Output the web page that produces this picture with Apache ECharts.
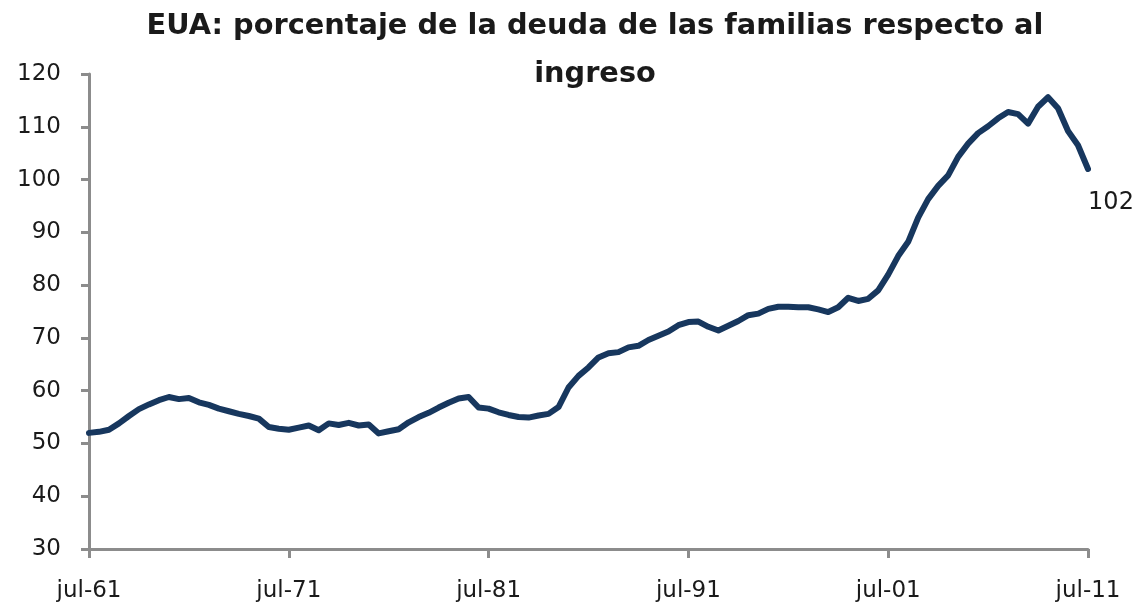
<!DOCTYPE html>
<html>
<head>
<meta charset="utf-8">
<script src="https://cdn.jsdelivr.net/npm/echarts@6/dist/echarts.min.js"></script>
<style>
html,body{margin:0;padding:0;background:#fff;}
#chart{width:1139px;height:608px;}
</style>
</head>
<body>
<div id="chart"></div>
<script>
// Half-yearly observations, jul-61 .. jul-11
const startYear = 1961;
const months = ['jul', 'ene'];
const debtRatio = [
  52.0, 52.2, 52.6, 53.8, 55.2, 56.5, 57.4, 58.2, 58.8, 58.4,
  58.6, 57.8, 57.3, 56.6, 56.1, 55.6, 55.2, 54.7, 53.1, 52.8,
  52.6, 53.0, 53.4, 52.5, 53.8, 53.5, 53.9, 53.4, 53.6, 51.9,
  52.3, 52.7, 54.0, 55.0, 55.8, 56.8, 57.7, 58.5, 58.8, 56.8,
  56.6, 55.9, 55.4, 55.0, 54.9, 55.3, 55.6, 56.9, 60.6, 62.8,
  64.4, 66.3, 67.1, 67.3, 68.2, 68.5, 69.6, 70.4, 71.2, 72.4,
  73.0, 73.1, 72.1, 71.4, 72.3, 73.2, 74.3, 74.6, 75.5, 75.9,
  75.9, 75.8, 75.8, 75.4, 74.9, 75.8, 77.6, 77.0, 77.4, 79.0,
  82.0, 85.5, 88.2, 92.8, 96.3, 98.8, 100.8, 104.3, 106.8, 108.8,
  110.1, 111.6, 112.8, 112.4, 110.6, 113.8, 115.6, 113.5, 109.2, 106.5,
  102.0
];
const categories = debtRatio.map((_, i) => {
  const y = startYear + Math.floor((i + 1) / 2);
  return months[i % 2] + '-' + String(y % 100).padStart(2, '0');
});
const endLabel = '102';
const titleText = 'EUA: porcentaje de la deuda de las familias respecto al\ningreso';

const lastIdx = debtRatio.length - 1;

const chart = echarts.init(document.getElementById('chart'), null, {renderer: 'canvas'});
chart.setOption({
  animation: false,
  backgroundColor: '#ffffff',
  title: {
    text: titleText,
    left: 590,
    top: -2,
    textAlign: 'center',
    textStyle: {
      fontFamily: '"DejaVu Sans", sans-serif',
      fontWeight: 'bold',
      fontSize: 28.8,
      lineHeight: 48,
      color: '#1a1a1a'
    }
  },
  grid: {left: 89, right: 51, top: 74, bottom: 59, containLabel: false},
  xAxis: {
    type: 'category',
    data: categories,
    boundaryGap: false,
    axisLine: {lineStyle: {color: '#8c8c8c', width: 3}},
    axisTick: {show: true, interval: 19, length: 9, inside: false, lineStyle: {color: '#8c8c8c', width: 3}},
    axisLabel: {
      interval: 19, margin: 31, fontSize: 23, color: '#1a1a1a',
      fontFamily: '"DejaVu Sans", sans-serif'
    },
    splitLine: {show: false}
  },
  yAxis: {
    type: 'value',
    min: 30, max: 120, interval: 10,
    axisLine: {show: true, lineStyle: {color: '#8c8c8c', width: 3}},
    axisTick: {show: true, length: 8, lineStyle: {color: '#8c8c8c', width: 3}},
    axisLabel: {
      margin: 28, fontSize: 23, color: '#1a1a1a',
      fontFamily: '"DejaVu Sans", sans-serif'
    },
    splitLine: {show: false}
  },
  series: [{
    type: 'line',
    data: debtRatio,
    showSymbol: false,
    symbol: 'none',
    lineStyle: {color: '#17375e', width: 6, join: 'round', cap: 'round'},
    itemStyle: {color: '#17375e'},
    markPoint: {
      symbol: 'circle',
      symbolSize: 0,
      silent: true,
      label: {
        show: true, formatter: endLabel, position: 'inside',
        offset: [23, 34], fontSize: 24, color: '#1a1a1a',
        fontFamily: '"DejaVu Sans", sans-serif'
      },
      data: [{coord: [categories[lastIdx], debtRatio[lastIdx]]}]
    }
  }]
});
</script>
</body>
</html>
